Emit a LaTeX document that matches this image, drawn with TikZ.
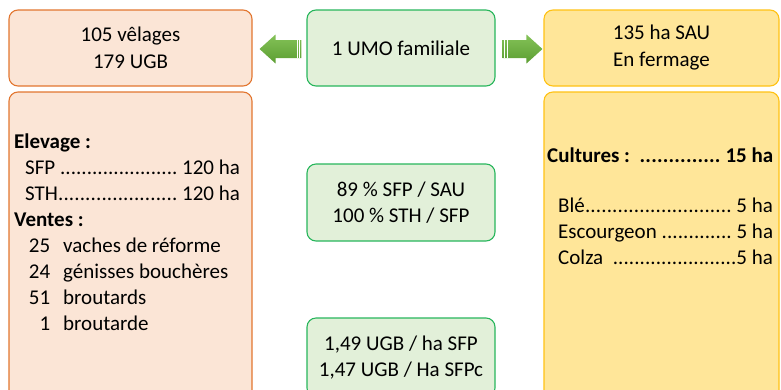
\documentclass[tikz,border=0pt]{standalone}
\usepackage{fontspec}
\setmainfont{Carlito}
\usepackage{tikz}
\usetikzlibrary{calc, positioning}
\definecolor{PeachFill}{RGB}{251, 229, 214}
\definecolor{OrangeLine}{RGB}{226, 118, 48}
\definecolor{SageFill}{RGB}{226, 240, 217}
\definecolor{LeafLine}{RGB}{40, 182, 92}
\definecolor{StrawFill}{RGB}{255, 230, 153}
\definecolor{GoldLine}{RGB}{255, 194, 20}
\definecolor{ArrowLight}{RGB}{132, 194, 88}
\definecolor{ArrowDark}{RGB}{92, 158, 50}

\newcommand{\pointille}{\xleaders\hbox{.}\hskip 0pt plus 1fill\relax}
\newcommand{\ligne}[1]{\makebox[226pt][l]{#1}}
% fleche pleine : queue, pointe, sens (1 droite, -1 gauche)
\newcommand{\flechepleine}[3]{%
  \shade[top color=ArrowLight, bottom color=ArrowDark]
    let \p1=(#1), \p2=(#2) in
    (\x1,{\y1+9pt}) -- ({\x2-(#3)*16pt},{\y1+9pt}) -- ({\x2-(#3)*16pt},{\y1+14.5pt})
    -- (\x2,\y1) -- ({\x2-(#3)*16pt},{\y1-14.5pt}) -- ({\x2-(#3)*16pt},{\y1-9pt})
    -- (\x1,{\y1-9pt}) -- cycle;
  \draw[white, line width=0.7pt] let \p1=(#1) in
    ({\x1+(#3)*2pt},{\y1+9pt}) -- ({\x1+(#3)*2pt},{\y1-9pt})
    ({\x1+(#3)*4.5pt},{\y1+9pt}) -- ({\x1+(#3)*4.5pt},{\y1-9pt});
}

\tikzset{
  every node/.style={font=\fontsize{21}{26}\selectfont},
  boite/.style={draw, line width=1.1pt, rounded corners=9pt, inner sep=0pt, align=center, text=black},
  troupeau/.style={boite, draw=OrangeLine, fill=PeachFill},
  milieu/.style={boite, draw=LeafLine, fill=SageFill, minimum width=188pt},
  terres/.style={boite, draw=GoldLine, fill=StrawFill},
  liste/.style={inner sep=0pt, align=left, anchor=north west}
}

\begin{document}
\begin{tikzpicture}[x=1pt, y=-1pt]
    \useasboundingbox (0,0) rectangle (781,389);
    \clip (0,0) rectangle (781,389);

    % Troupeau
    \node[troupeau, minimum width=243pt, minimum height=76pt, font=\fontsize{21}{27}\selectfont]
        (velages) at (130.5,48) {105 vêlages\\179 UGB};
    \node[troupeau, minimum width=243pt, minimum height=330pt] (elevage) at (130.5,257) {};
    \node[liste] (elevtxt) at (14,134) {%
        \ligne{\textbf{Elevage :}}\\
        \ligne{\hspace*{11pt}SFP \pointille\ 120 ha}\\
        \ligne{\hspace*{11pt}STH\pointille\ 120 ha}\\
        \ligne{\textbf{Ventes :}}\\
        \ligne{\makebox[36pt][r]{25}\hspace{13pt}vaches de réforme}\\
        \ligne{\makebox[36pt][r]{24}\hspace{13pt}génisses bouchères}\\
        \ligne{\makebox[36pt][r]{51}\hspace{13pt}broutards}\\
        \ligne{\makebox[36pt][r]{1}\hspace{13pt}broutarde}};

    % Main d'oeuvre et ratios
    \node[milieu, minimum height=76pt] (umo) at (401,48) {1 UMO familiale};
    \node[milieu, minimum height=77pt] (ratios) at (401,202.5) {89 \% SFP / SAU\\100 \% STH / SFP};
    \node[milieu, minimum height=79pt] (charge) at (401,357.5) {1,49 UGB / ha SFP\\1,47 UGB / Ha SFPc};

    % Terres
    \node[terres, minimum width=235pt, minimum height=76pt, font=\fontsize{21}{27}\selectfont]
        (sau) at (661.5,48) {135 ha SAU\\En fermage};
    \node[terres, minimum width=235pt, minimum height=330pt] (cultures) at (661.5,257) {};
    \node[liste] (cultxt) at (547,148) {%
        \ligne{\textbf{Cultures :\ \ \pointille\ 15 ha}}\\[24pt]
        \ligne{\hspace*{11pt}Blé\pointille\ 5 ha}\\
        \ligne{\hspace*{11pt}Escourgeon \pointille\ 5 ha}\\
        \ligne{\hspace*{11pt}Colza \ \pointille 5 ha}};

    % Fleches
    \flechepleine{$(umo.west)+(-5,1)$}{$(velages.east)+(7,1)$}{-1}
    \flechepleine{$(umo.east)+(7,1)$}{$(sau.west)+(-1,1)$}{1}
\end{tikzpicture}
\end{document}
